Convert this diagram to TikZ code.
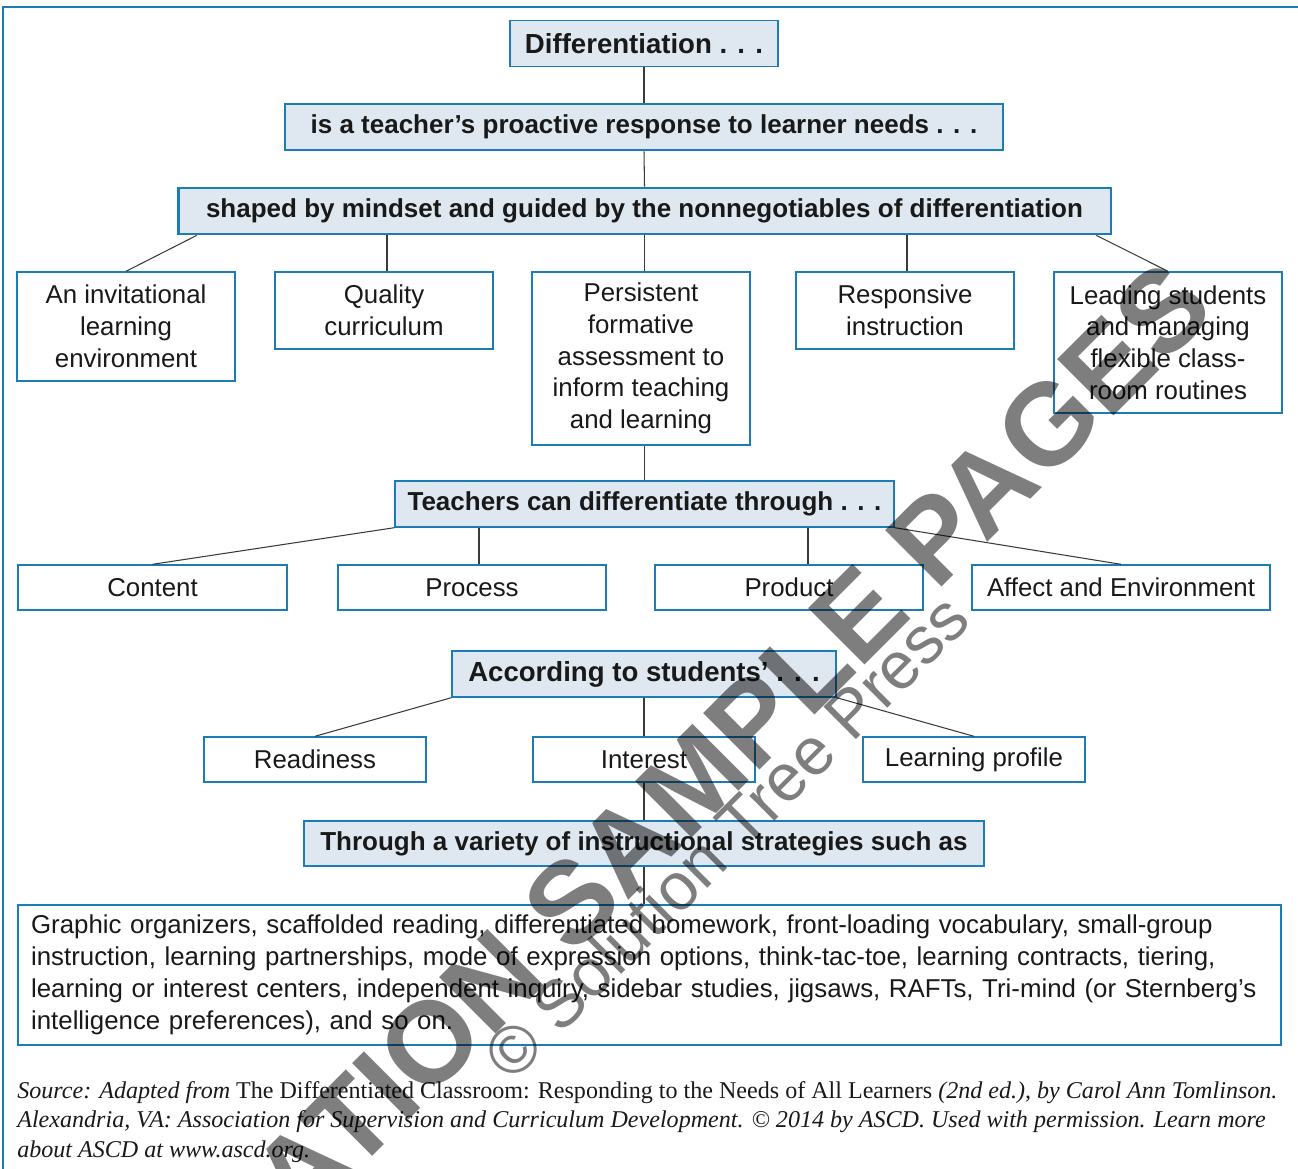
\documentclass[tikz,border=0pt]{standalone}
\usepackage{fontspec}
\setmainfont{Liberation Serif}
\setsansfont{Liberation Sans}
\usepackage{xcolor}
\usetikzlibrary{positioning}

\definecolor{boxblue}{HTML}{1C7DB5}
\definecolor{boxfill}{HTML}{DFE8F1}
\definecolor{linkgray}{HTML}{3A3A3A}
\definecolor{wmgray}{HTML}{7E7E7E}

\begin{document}
\begin{tikzpicture}[x=0.02cm, y=-0.02cm,
		every node/.style={inner sep=0pt, text=black!90},
		headbox/.style={draw=boxblue, line width=0.8pt, fill=boxfill, minimum height=0.92cm,
			font=\sffamily\bfseries\fontsize{14.8}{18}\selectfont},
		bighead/.style={headbox, font=\sffamily\bfseries\fontsize{15.7}{19}\selectfont},
		thickhead/.style={headbox, line width=1.6pt},
		itembox/.style={draw=boxblue, line width=0.8pt, fill=white, align=center,
			font=\sffamily\fontsize{14.7}{18.1}\selectfont},
		link/.style={draw=linkgray, line width=0.6pt},
		wmbig/.style={text=wmgray, font=\sffamily\bfseries\fontsize{66}{66}\selectfont, rotate=45},
		wmsmall/.style={text=wmgray, font=\sffamily\fontsize{38}{38}\selectfont, rotate=45}]
	\useasboundingbox (0,0) rectangle (1298,1169);
	% frame
	\draw[boxblue, line width=0.85pt] (1298,7) -- (3,7) -- (3,1169);
	
	% top chain
	\node[bighead, minimum width=5.36cm] (diff) at (644,43.5) {Differentiation . . .};
	\node[thickhead, minimum width=14.36cm] (proact) at (644,127) {is a teacher’s proactive response to learner needs . . .};
	\node[thickhead, minimum width=18.66cm] (shaped) at (644.5,211) {shaped by mindset and guided by the nonnegotiables of differentiation};
	
	% nonnegotiables
	\node[itembox, minimum width=4.36cm, minimum height=2.18cm] (invit) at (126,326.5) {An invitational\\learning\\environment};
	\node[itembox, minimum width=4.36cm, minimum height=1.54cm] (qual) at (384,310.5) {Quality\\curriculum};
	\node[itembox, minimum width=4.36cm, minimum height=3.46cm] (pers) at (641,358.5) {Persistent\\formative\\assessment to\\inform teaching\\and learning};
	\node[itembox, minimum width=4.36cm, minimum height=1.54cm] (respo) at (905,310.5) {Responsive\\instruction};
	\node[itembox, minimum width=4.56cm, minimum height=2.82cm] (lead) at (1168,342.5) {Leading students\\and managing\\flexible class-\\room routines};
	
	% ways
	\node[headbox, minimum width=9.98cm] (teach) at (644.5,504) {Teachers can differentiate through . . .};
	\node[itembox, minimum width=5.38cm, minimum height=0.9cm] (content) at (152.5,587.5) {Content};
	\node[itembox, minimum width=5.36cm, minimum height=0.9cm] (process) at (472,587.5) {Process};
	\node[itembox, minimum width=5.36cm, minimum height=0.9cm] (product) at (789,587.5) {Product};
	\node[itembox, minimum width=5.96cm, minimum height=0.9cm] (affect) at (1121,587.5) {Affect and Environment};
	
	% students
	\node[bighead, minimum width=7.68cm] (accord) at (644,674) {According to students’ . . .};
	\node[itembox, minimum width=4.44cm, minimum height=0.9cm] (ready) at (315,759.5) {Readiness};
	\node[itembox, minimum width=4.44cm, minimum height=0.9cm] (inter) at (644,759.5) {Interest};
	\node[itembox, minimum width=4.44cm, minimum height=0.9cm] (lprof) at (974,759.5) {Learning profile};
	
	% strategies
	\node[headbox, minimum width=13.6cm, minimum height=0.9cm] (strat) at (644,843.5) {Through a variety of instructional strategies such as};
	\node[itembox, align=left, text width=24.74cm, inner xsep=0.26cm, minimum height=2.8cm] (list) at (649.5,975)
		{Graphic organizers, scaffolded reading, differentiated homework, front-loading vocabulary, small-group\\
		instruction, learning partnerships, mode of expression options, think-tac-toe, learning contracts, tiering,\\
		learning or interest centers, independent inquiry, sidebar studies, jigsaws, RAFTs, Tri-mind (or Sternberg’s\\
		intelligence preferences), and so on.};
	
	% connectors
	\draw[link] (diff.south) -- (proact.north);
	\draw[link] (proact.south) -- (shaped.north);
	\draw[link] ([xshift=0.4cm]shaped.south west) -- (invit.north);
	\draw[link] ([xshift=0.06cm]qual.north |- shaped.south) -- ([xshift=0.06cm]qual.north);
	\draw[link] (shaped.south) -- (shaped.south |- pers.north);
	\draw[link] ([xshift=0.04cm]respo.north |- shaped.south) -- ([xshift=0.04cm]respo.north);
	\draw[link] ([xshift=-0.32cm]shaped.south east) -- (lead.north);
	\draw[link] (teach.north |- pers.south) -- (teach.north);
	\draw[link] (teach.south west) -- (content.north);
	\draw[link] ([xshift=0.14cm]process.north |- teach.south) -- ([xshift=0.14cm]process.north);
	\draw[link] ([xshift=0.38cm]product.north |- teach.south) -- ([xshift=0.38cm]product.north);
	\draw[link] (teach.south east) -- (affect.north);
	\draw[link] (accord.south west) -- (ready.north);
	\draw[link] (accord.south) -- (inter.north);
	\draw[link] (accord.south east) -- (lprof.north);
	\draw[link] (inter.south) -- (strat.north);
	\draw[link] (strat.south) -- (strat.south |- list.north);
	
	% source line
	\node[anchor=north west, align=left, font=\rmfamily\fontsize{13.7}{16.8}\selectfont] (source) at (17,1081)
		{\textit{Source: Adapted from} The Differentiated Classroom: Responding to the Needs of All Learners \textit{(2nd ed.), by Carol Ann Tomlinson.}\\
		\textit{Alexandria, VA: Association for Supervision and Curriculum Development. © 2014 by ASCD. Used with permission. Learn more}\\
		\textit{about ASCD at www.ascd.org.}};
	
	% watermark
	\begin{scope}[blend mode=multiply]
		\clip (0,0) rectangle (1298,1169);
		\node[wmbig] (wmark) at (595,878) {EVALUATION SAMPLE PAGES};
		\node[wmsmall] (wpress) at (726,836) {© Solution Tree Press};
	\end{scope}
\end{tikzpicture}
\end{document}
